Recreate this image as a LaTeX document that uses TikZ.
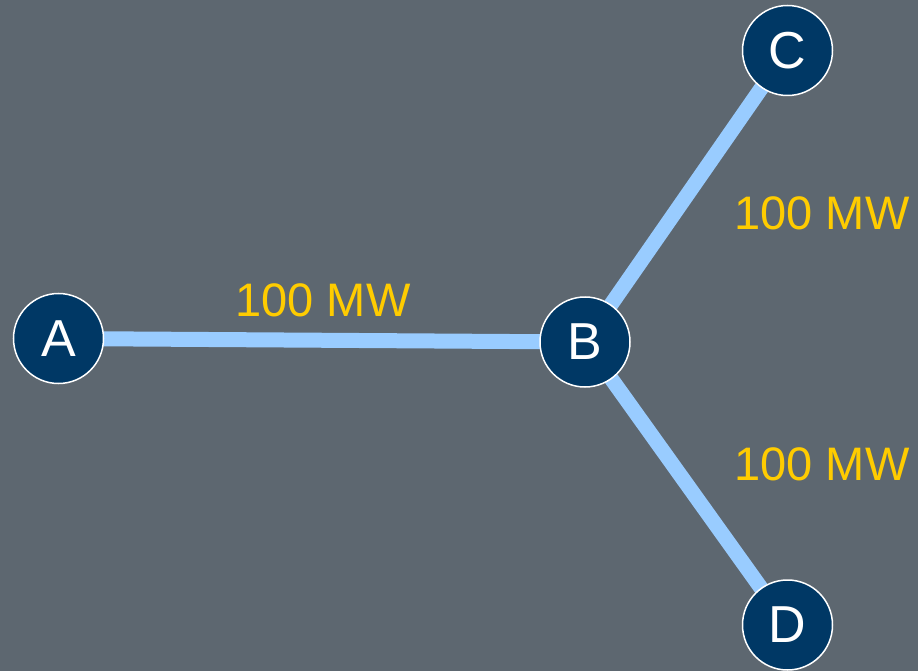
\documentclass[tikz,border=0pt]{standalone}
\usepackage{fontspec}
\setmainfont{Liberation Sans}
\definecolor{bg}{HTML}{5D6770}
\definecolor{navy}{HTML}{003865}
\definecolor{edgeblue}{HTML}{99CCFF}
\definecolor{lbl}{HTML}{FFCC00}
\begin{document}
\begin{tikzpicture}[x=1pt,y=-1pt,
  bus/.style={circle,fill=navy,draw=white,line width=1.5pt,minimum size=90pt,inner sep=0pt,text=white,font=\fontsize{52}{52}\selectfont},
  line/.style={edgeblue,line width=15pt},
  flow/.style={text=lbl,font=\fontsize{47}{47}\selectfont,inner sep=0pt}]
\fill[bg] (0,0) rectangle (918,671);
\useasboundingbox (0,0) rectangle (918,671);
\coordinate (pA) at (58.5,338.5);
\coordinate (pB) at (585,342);
\coordinate (pC) at (787.5,50.5);
\coordinate (pD) at (787.5,625);
\draw[line] (pA) -- (pB);
\draw[line] (pB) -- (pC);
\draw[line] (pB) -- (pD);
\node[bus] (A) at (pA) {A};
\node[bus] (B) at (pB) {B};
\node[bus] (C) at (pC) {C};
\node[bus] (D) at (pD) {D};
\node[flow] (lab) at (323,300) {100 MW};
\node[flow] (lbc) at (822,213) {100 MW};
\node[flow] (lbd) at (822,464) {100 MW};
\end{tikzpicture}
\end{document}
